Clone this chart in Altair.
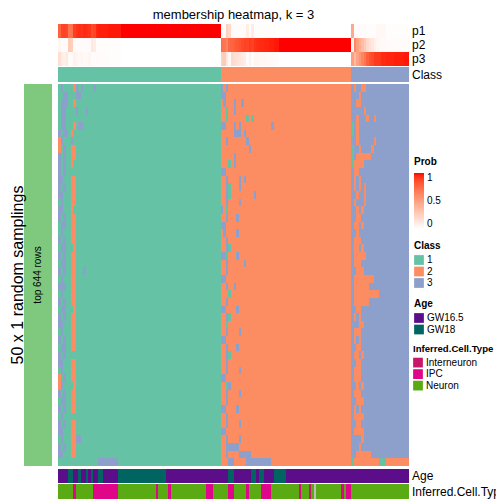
import altair as alt
import pandas as pd

# ---------------- data ----------------
TITLE = "membership heatmap, k = 3"
N_COLS = 140
N_ROWS = 50

class_runs = [("1", 65), ("2", 52), ("3", 23)]

p1 = ([0.78, 0.88, 0.89, 0.87, 0.70, 0.72, 0.90, 0.93, 0.94, 0.93, 0.95, 0.94, 0.93,
       0.86, 0.88, 0.96, 0.97, 0.97, 0.97, 0.97, 0.98, 0.98, 0.98, 0.98, 0.98]
      + [1.0] * 40
      + [0.03, 0.02, 0.25, 0.20, 0.03, 0.02, 0.02, 0.02, 0.02, 0.02, 0.10, 0.02, 0.10, 0.02]
      + [0.01] * 8 + [0.0] * 30
      + [0.45, 0.02, 0.02, 0.02, 0.02, 0.02, 0.01, 0.01, 0.01, 0.01, 0.04, 0.04, 0.04, 0.04]
      + [0.01] * 9)
p2 = ([0.05, 0.02, 0.03, 0.02, 0.28, 0.25, 0.03, 0.02, 0.02, 0.02, 0.02, 0.02, 0.02,
       0.12, 0.10] + [0.01] * 10
      + [0.0] * 40
      + [0.72, 0.70, 0.62, 0.76, 0.77, 0.80, 0.82, 0.84, 0.87, 0.89, 0.88, 0.91, 0.89,
         0.93, 0.94, 0.95, 0.95, 0.96, 0.96, 0.97, 0.97, 0.98, 0.98] + [1.0] * 29
      + [0.05, 0.62, 0.50, 0.42, 0.35, 0.28, 0.20, 0.15, 0.12, 0.08, 0.05, 0.04,
         0.03, 0.03, 0.02, 0.02, 0.02, 0.02, 0.02, 0.02, 0.02, 0.02, 0.02])
p3 = ([0.17, 0.10, 0.08, 0.11, 0.02, 0.03, 0.07, 0.05, 0.04, 0.05, 0.03, 0.04, 0.05,
       0.02, 0.02, 0.03, 0.02, 0.02, 0.02, 0.02, 0.01, 0.01, 0.01, 0.01, 0.01]
      + [0.0] * 40
      + [0.25, 0.28, 0.13, 0.04, 0.20, 0.18, 0.16, 0.14, 0.11, 0.09, 0.02, 0.07, 0.01,
         0.05, 0.05, 0.04, 0.04, 0.04, 0.03, 0.03, 0.03, 0.02, 0.02] + [0.0] * 29
      + [0.50, 0.36, 0.48, 0.56, 0.63, 0.70, 0.79, 0.84, 0.87, 0.91, 0.91, 0.92, 0.95,
         0.95, 0.96, 0.96, 0.96, 0.97, 0.97, 0.97, 0.97, 0.98, 0.98])

# main heatmap: class per sampling row; variable segments (cols 0-23, 65-90, 117-139)
seg_a = ["131111231311113", "113311133", "1333112", "133111131113", "133",
         "1331112133", "313312", "231113", "2131122", "3131122",
         "313112", "313", "3311122", "3131122", "3311122",
         "1311122", "331112", "3131122", "1331122", "1311122",
         "3131122", "1331112", "3131122", "1331122", "31311221113",
         "1311122", "3331122", "1311122", "3131122", "1331112",
         "3131122", "3311122", "1311122", "3131122", "1331122",
         "3131111", "3311122", "1311122", "2131122", "2311112",
         "3131122", "1331122", "3131122", "1311111", "3131122",
         "3311122", "131112233", "3131122", "3311122", "111111111111111133333333"]
seg_b = ["323", "33", "232223223", "221223", "2212222222121",
         "332223232222222222223", "2222233323", "22322222223", "222222222223", "222223",
         "222123", "33", "2232222323", "22312223", "22312222222223",
         "22322223", "321", "2232223", "3322", "23222232",
         "2232", "22312", "3312223", "2232222223", "22322",
         "3322", "2232232", "22212", "2232", "3322223",
         "22312", "2212", "22322223", "33", "2232223",
         "22312", "2232", "22322223", "3322", "2213",
         "22322223", "2232", "3322223", "22322", "22322223",
         "3322", "22322223", "2233333", "223222233333", "22233222223333333333"]
seg_c = ["323322", "3332", "3322", "333332", "3323332332",
         "132", "132", "3323333332", "133233332", "13222222",
         "12222", "322", "3232", "323232", "332332",
         "323332", "33232", "3322", "32232", "332",
         "3222", "32232", "322222", "3222", "33222",
         "322222222", "3222222", "32222222222", "3222222", "3322",
         "3232", "33322", "3222", "32323", "3322",
         "32232", "3322", "32223", "3222", "33232",
         "3222", "33222", "3232", "32222", "3322",
         "32222", "33332", "3332", "33222222", "12222222222111222222222"]

age_runs = [("GW16.5", 4), ("GW18", 2), ("GW16.5", 2), ("GW18", 1), ("GW16.5", 2),
            ("GW18", 1), ("GW16.5", 1), ("GW18", 1), ("GW16.5", 2), ("GW18", 2),
            ("GW16.5", 6), ("GW18", 19), ("GW16.5", 25), ("GW18", 2), ("GW16.5", 7),
            ("GW18", 2), ("GW16.5", 1), ("GW18", 2), ("GW16.5", 4), ("GW18", 5),
            ("GW16.5", 49)]
cell_runs = [("Neuron", 6), ("IPC", 1), ("Neuron", 7), ("IPC", 10), ("Neuron", 15),
             ("IPC", 1), ("Neuron", 4), ("IPC", 1), ("Neuron", 14), ("IPC", 3),
             ("Neuron", 6), ("IPC", 2), ("Neuron", 5), ("IPC", 1), ("Neuron", 5),
             ("IPC", 4), ("Neuron", 11), ("IPC", 1), ("Neuron", 3), ("Interneuron", 1),
             ("Neuron", 1), ("NA", 1), ("Neuron", 10), ("IPC", 1), ("Neuron", 1),
             ("IPC", 2), ("Neuron", 23)]

class_colors = {"1": "#66C2A5", "2": "#FC8D62", "3": "#8DA0CB"}
age_colors = {"GW16.5": "#5C0D8A", "GW18": "#006461"}
cell_colors = {"Interneuron": "#C8176B", "IPC": "#E0068A", "Neuron": "#5AAB13", "NA": "#BEBEBE"}

# ---------------- layout (chart pixels) ----------------
W, H = 488, 496
X0, X1 = 50, 401
CW = (X1 - X0) / N_COLS
TRACK_P = [(16, 30), (30, 44), (44, 58)]
TRACK_CLASS = (59, 74)
MAIN_TOP, MAIN_BOT = 76, 458
RH = (MAIN_BOT - MAIN_TOP) / N_ROWS
TRACK_AGE = (461, 475)
TRACK_CELL = (476, 491)
FONT = "Liberation Sans"


def cpx(c):
    return round(X0 + c * CW)


def runs_to_rects(seq, y0, y1, field):
    out = []
    start = 0
    for c in range(1, len(seq) + 1):
        if c == len(seq) or seq[c] != seq[start]:
            out.append({"x": cpx(start), "x2": cpx(c), "y": y0, "y2": y1, field: seq[start]})
            start = c
    return out


def expand(runs):
    s = []
    for v, n in runs:
        s += [v] * n
    return s


# main heatmap
main_recs = []
for r in range(N_ROWS):
    s = (seg_a[r].ljust(24, "1") + "1" * 41 + seg_b[r].ljust(26, "2") + "2" * 26
         + seg_c[r].ljust(23, "3"))
    main_recs += runs_to_rects(list(s), round(MAIN_TOP + r * RH), round(MAIN_TOP + (r + 1) * RH), "cls")
main_recs += runs_to_rects(expand(class_runs), TRACK_CLASS[0], TRACK_CLASS[1], "cls")
class_df = pd.DataFrame(main_recs)

prob_recs = []
for vals, (y0, y1) in zip([p1, p2, p3], TRACK_P):
    prob_recs += runs_to_rects(vals, y0, y1, "prob")
prob_df = pd.DataFrame(prob_recs)

age_df = pd.DataFrame(runs_to_rects(expand(age_runs), TRACK_AGE[0], TRACK_AGE[1], "age"))
cell_df = pd.DataFrame(runs_to_rects(expand(cell_runs), TRACK_CELL[0], TRACK_CELL[1], "cell"))

xs = alt.Scale(domain=[0, W], nice=False, zero=False)
ys = alt.Scale(domain=[0, H], nice=False, zero=False, reverse=True)
X = alt.X("x:Q", scale=xs, axis=None)
Y = alt.Y("y:Q", scale=ys, axis=None)

leg_common = dict(orient="none", titleFontWeight="bold", titleFont=FONT,
                  titleColor="black", labelFontSize=10, labelFont=FONT, labelColor="black",
                  padding=0)
sym_common = dict(symbolType="square", symbolSize=95, symbolStrokeWidth=0, symbolOpacity=1,
                  rowPadding=1.5, labelOffset=3, titlePadding=4)

prob_layer = alt.Chart(prob_df).mark_rect().encode(
    x=X, x2="x2:Q", y=Y, y2="y2:Q",
    color=alt.Color("prob:Q", title="Prob",
                    scale=alt.Scale(domain=[0, 1], range=["#FFFFFF", "#FF0000"], interpolate="lab"),
                    legend=alt.Legend(legendX=406, legendY=149, direction="vertical",
                                      gradientLength=56, gradientThickness=10,
                                      values=[0, 0.5, 1], format="~g", labelOffset=3,
                                      titleFontSize=10, titlePadding=6,
                                      gradientStrokeWidth=0, **leg_common)),
)

class_layer = alt.Chart(class_df).mark_rect().encode(
    x=X, x2="x2:Q", y=Y, y2="y2:Q",
    color=alt.Color("cls:N", title="Class",
                    scale=alt.Scale(domain=list(class_colors), range=list(class_colors.values())),
                    legend=alt.Legend(legendX=406, legendY=233, titleFontSize=10,
                                      **sym_common, **leg_common)),
)

age_layer = alt.Chart(age_df).mark_rect().encode(
    x=X, x2="x2:Q", y=Y, y2="y2:Q",
    color=alt.Color("age:N", title="Age",
                    scale=alt.Scale(domain=list(age_colors), range=list(age_colors.values())),
                    legend=alt.Legend(legendX=406, legendY=291, titleFontSize=10,
                                      **sym_common, **leg_common)),
)

cell_layer = alt.Chart(cell_df).mark_rect().encode(
    x=X, x2="x2:Q", y=Y, y2="y2:Q",
    color=alt.Color("cell:N", title="Inferred.Cell.Type",
                    scale=alt.Scale(domain=list(cell_colors), range=list(cell_colors.values())),
                    legend=alt.Legend(legendX=405, legendY=336, titleFontSize=9.6,
                                      values=["Interneuron", "IPC", "Neuron"],
                                      **sym_common, **leg_common)),
)

side_df = pd.DataFrame([{"x": 16, "x2": 44, "y": MAIN_TOP, "y2": MAIN_BOT}])
side_layer = alt.Chart(side_df).mark_rect(color="#7FC97F").encode(x=X, x2="x2:Q", y=Y, y2="y2:Q")

mid_y = (MAIN_TOP + MAIN_BOT) / 2
labels_df = pd.DataFrame([
    {"x": 404, "y": sum(TRACK_P[0]) / 2, "t": "p1"},
    {"x": 404, "y": sum(TRACK_P[1]) / 2, "t": "p2"},
    {"x": 404, "y": sum(TRACK_P[2]) / 2, "t": "p3"},
    {"x": 404, "y": sum(TRACK_CLASS) / 2, "t": "Class"},
    {"x": 404, "y": sum(TRACK_AGE) / 2, "t": "Age"},
    {"x": 404, "y": sum(TRACK_CELL) / 2, "t": "Inferred.Cell.Type"},
])
labels_layer = alt.Chart(labels_df).mark_text(align="left", baseline="middle", fontSize=12,
                                               font=FONT, color="black").encode(x=X, y=Y, text="t:N")

title_df = pd.DataFrame([{"x": (X0 + X1) / 2, "y": 10.5, "t": TITLE}])
title_layer = alt.Chart(title_df).mark_text(align="center", baseline="alphabetic", fontSize=13,
                                             font=FONT, color="black").encode(x=X, y=Y, text="t:N")

rowtitle_df = pd.DataFrame([{"x": 9.5, "y": mid_y, "t": "50 x 1 random samplings"}])
rowtitle_layer = alt.Chart(rowtitle_df).mark_text(align="center", baseline="middle", fontSize=16,
                                                   angle=270, font=FONT, color="black").encode(
    x=X, y=Y, text="t:N")

inner_df = pd.DataFrame([{"x": 30, "y": mid_y, "t": "top 644 rows"}])
inner_layer = alt.Chart(inner_df).mark_text(align="center", baseline="middle", fontSize=10,
                                             angle=270, font=FONT, color="black").encode(
    x=X, y=Y, text="t:N")

chart = alt.layer(
    prob_layer, class_layer, age_layer, cell_layer, side_layer,
    labels_layer, title_layer, rowtitle_layer, inner_layer,
).resolve_scale(color="independent").properties(
    width=W, height=H, autosize=alt.AutoSizeParams(type="none"), padding=0,
    background="white",
).configure_view(stroke=None)

chart.save("out.html", embed_options={"renderer": "svg", "actions": False})
